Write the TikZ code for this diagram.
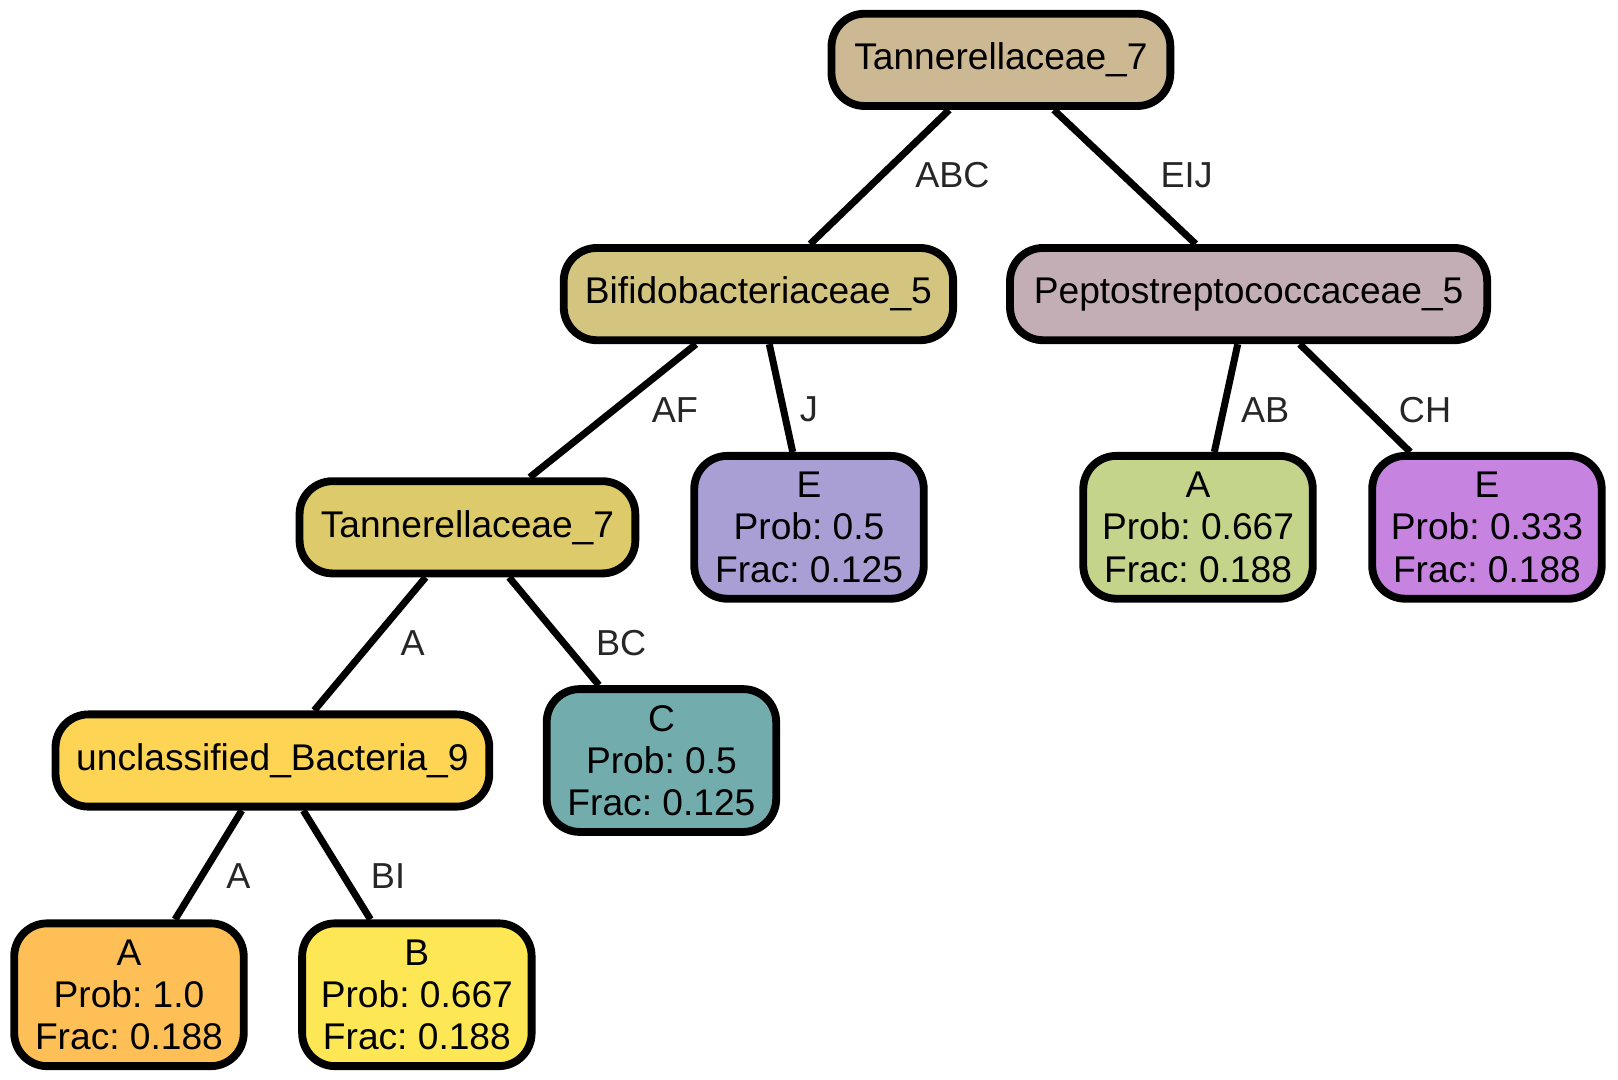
\documentclass[tikz,border=0pt]{standalone}
\usepackage{fontspec}
\setmainfont{Liberation Sans}
\frenchspacing
\begin{document}
\begin{tikzpicture}[x=0.5pt,y=-0.5pt,
  box/.style={draw=black,line width=3.8pt,rounded corners=16pt,
    font=\fontsize{18}{20.5}\selectfont,align=center,inner sep=0pt},
  inner/.style={box,minimum height=44.7pt},
  leaf/.style={box,minimum width=111.2pt,minimum height=69.2pt},
  edge/.style={draw=black,line width=3.4pt},
  lab/.style={font=\fontsize{17.5}{20}\selectfont,text=labgray,inner sep=0pt}]
\definecolor{labgray}{HTML}{262626}
\definecolor{cRoot}{HTML}{CDB894}
\definecolor{cBif}{HTML}{D3C47F}
\definecolor{cPep}{HTML}{C4AEB6}
\definecolor{cTan}{HTML}{DDCA6A}
\definecolor{cUnc}{HTML}{FED454}
\definecolor{cLA}{HTML}{FEC056}
\definecolor{cLB}{HTML}{FEE755}
\definecolor{cLE}{HTML}{A99FD5}
\definecolor{cLC}{HTML}{73ACAC}
\definecolor{cPA}{HTML}{C4D48B}
\definecolor{cPE}{HTML}{C683E0}
\useasboundingbox (0,0) rectangle (1568,1046);

% internal nodes
\node[inner,fill=cRoot,minimum width=164.2pt] (root) at (970,58) {Tannerellaceae\_7};
\node[inner,fill=cBif,minimum width=188.7pt] (bif) at (735,285) {Bifidobacteriaceae\_5};
\node[inner,fill=cPep,minimum width=231.2pt] (pep) at (1210,285) {Peptostreptococcaceae\_5};
\node[inner,fill=cTan,minimum width=162.7pt] (tan) at (453,511) {Tannerellaceae\_7};
\node[inner,fill=cUnc,minimum width=210.2pt] (unc) at (264,737) {unclassified\_Bacteria\_9};

% leaves
\node[leaf,fill=cLE] (le) at (784,511) {E\\Prob: 0.5\\Frac: 0.125};
\node[leaf,fill=cPA] (pa) at (1161,511) {A\\Prob: 0.667\\Frac: 0.188};
\node[leaf,fill=cPE] (pe) at (1441,511) {E\\Prob: 0.333\\Frac: 0.188};
\node[leaf,fill=cLC] (lc) at (641,737) {C\\Prob: 0.5\\Frac: 0.125};
\node[leaf,fill=cLA] (la) at (125,964) {A\\Prob: 1.0\\Frac: 0.188};
\node[leaf,fill=cLB] (lb) at (404,964) {B\\Prob: 0.667\\Frac: 0.188};

% connectors
\draw[edge] (root) -- (bif);
\draw[edge] (root) -- (pep);
\draw[edge] (bif) -- (tan);
\draw[edge] (bif) -- (le);
\draw[edge] (pep) -- (pa);
\draw[edge] (pep) -- (pe);
\draw[edge] (tan) -- (unc);
\draw[edge] (tan) -- (lc);
\draw[edge] (unc) -- (la);
\draw[edge] (unc) -- (lb);

% connector labels
\node[lab] (l1) at (923,170) {ABC};
\node[lab] (l2) at (1150,170) {EIJ};
\node[lab] (l3) at (654,397) {AF};
\node[lab] (l4) at (784,397) {J};
\node[lab] (l5) at (1226,397) {AB};
\node[lab] (l6) at (1381,397) {CH};
\node[lab] (l7) at (400,623) {A};
\node[lab] (l8) at (602,623) {BC};
\node[lab] (l9) at (231,849) {A};
\node[lab] (l10) at (376,849) {BI};
\end{tikzpicture}
\end{document}
